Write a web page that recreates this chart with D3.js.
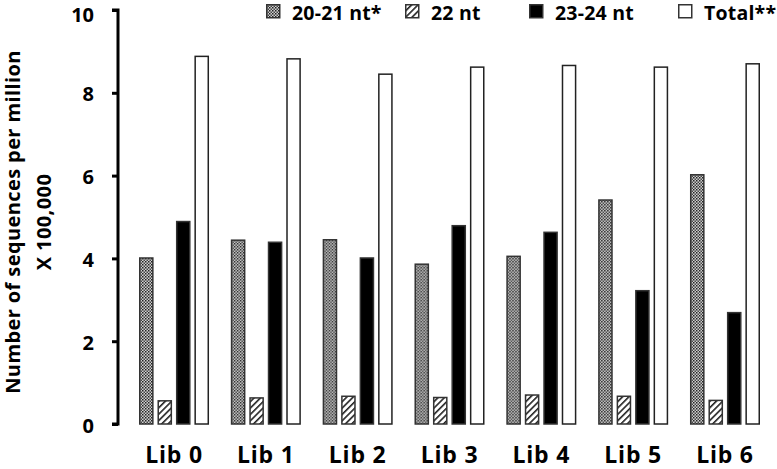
<!DOCTYPE html>
<html><head><meta charset="utf-8">
<script src="https://cdn.jsdelivr.net/npm/d3@7"></script>
<style>body{margin:0;background:#fff}svg{display:block}text{font-family:"Open Sans",sans-serif;font-weight:bold;fill:#000}</style>
</head><body><svg id="c" width="777" height="469"></svg>
<script>
const categories = ["Lib 0","Lib 1","Lib 2","Lib 3","Lib 4","Lib 5","Lib 6"];
const seriesNames = ["20-21 nt*","22 nt","23-24 nt","Total**"];
const s2021 = [4.01, 4.44, 4.45, 3.86, 4.05, 5.41, 6.02];
const s22 = [0.56, 0.63, 0.67, 0.64, 0.70, 0.67, 0.57];
const s2324 = [4.89, 4.39, 4.01, 4.79, 4.63, 3.22, 2.69];
const sTotal = [8.88, 8.82, 8.45, 8.62, 8.66, 8.62, 8.70];
const yTicks = [0, 2, 4, 6, 8, 10];

const seriesValues = [s2021, s22, s2324, sTotal];
const fills = ["url(#dots)", "url(#hatch)", "#000", "#fff"];

const svg = d3.select("#c");
const defs = svg.append("defs");
const pd = defs.append("pattern").attr("id","dots").attr("patternUnits","userSpaceOnUse").attr("width",3).attr("height",3);
pd.append("rect").attr("width",3).attr("height",3).attr("fill","#d0d0d0");
pd.append("rect").attr("width",1.5).attr("height",1.5).attr("fill","#222");
pd.append("rect").attr("x",1.5).attr("y",1.5).attr("width",1.5).attr("height",1.5).attr("fill","#444");
const ph = defs.append("pattern").attr("id","hatch").attr("patternUnits","userSpaceOnUse").attr("width",4.5).attr("height",4.5).attr("patternTransform","rotate(45)");
ph.append("rect").attr("width",4.5).attr("height",4.5).attr("fill","#fff");
ph.append("rect").attr("x",0).attr("width",1.6).attr("height",4.5).attr("fill","#222");

const y = d3.scaleLinear().domain([0,10]).range([424,10]);
const x0 = d3.scaleBand().domain(categories).range([139,760]).paddingInner(0.2375).paddingOuter(0);
const x1 = d3.scaleBand().domain(seriesNames).range([0,x0.bandwidth()]).paddingInner(0.21).paddingOuter(0);

// y axis
const yAxis = d3.axisLeft(y).tickValues(yTicks).tickSize(6).tickPadding(18).tickFormat(d3.format("d"));
const ga = svg.append("g").attr("transform","translate(118,0)").call(yAxis);
ga.select(".domain").attr("stroke","#000").attr("stroke-width",3).attr("d","M-6,10H0V424H-6");
ga.selectAll(".tick line").attr("stroke","#000").attr("stroke-width",3);
ga.selectAll(".tick text").style("font-size","20px").style("font-family","'Open Sans',sans-serif").style("font-weight","bold").attr("fill","#000")
  .attr("dy", d => d === 10 ? "0.58em" : "0.4em");

// bars
const groups = svg.append("g").selectAll("g").data(categories).join("g")
  .attr("transform", c => `translate(${x0(c)},0)`);
groups.selectAll("rect").data((c,i) => seriesNames.map((s,j) => ({s, j, v: seriesValues[j][i]})))
  .join("rect")
  .attr("x", d => x1(d.s)+0.75)
  .attr("y", d => y(d.v))
  .attr("width", x1.bandwidth()-1.5)
  .attr("height", d => y(0) - y(d.v))
  .attr("fill", d => fills[d.j])
  .attr("stroke", d => d.j===3 ? "#222" : "#333")
  .attr("stroke-width", 1.5);

// x labels
svg.append("g").selectAll("text").data(categories).join("text")
  .attr("x", c => x0(c) + x0.bandwidth()/2)
  .attr("y", 463)
  .attr("text-anchor","middle")
  .style("font-size","23px")
  .style("letter-spacing","0.8px")
  .text(c => c);

// y title
const yt = svg.append("text").attr("transform","translate(0,222) rotate(-90)").attr("text-anchor","middle").style("font-size","20px").style("letter-spacing","0.4px");
yt.append("tspan").attr("x",0).attr("y",20).text("Number of sequences per million");
yt.append("tspan").attr("x",0).attr("y",51).text("X 100,000");

// legend
const legX = [266, 405, 529, 678];
const lg = svg.append("g").selectAll("g").data(seriesNames).join("g")
  .attr("transform",(d,i)=>`translate(${legX[i]},4)`);
lg.append("rect").attr("x",0.75).attr("y",0.75).attr("width",13).attr("height",13)
  .attr("fill",(d,i)=>fills[i]).attr("stroke","#333").attr("stroke-width",1.5);
lg.append("text").attr("x",26).attr("y",15.5).style("font-size","19.5px").style("letter-spacing","0.2px").text(d=>d);
</script></body></html>
